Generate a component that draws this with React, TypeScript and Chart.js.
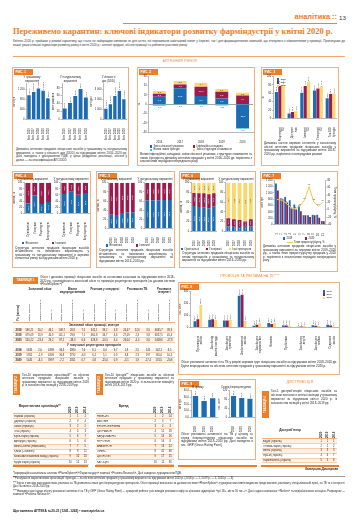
import React, { useEffect, useRef } from 'react';
import { Chart, registerables } from 'chart.js';

Chart.register(...registerables);

const F = "'Liberation Sans', Arial, sans-serif";
const CF = 'Liberation Sans, Arial, sans-serif';
const SERIF = "'Liberation Serif', 'DejaVu Serif', serif";
const OR = '#ef7d23';
const ORL = '#f4b07a';
const BLUE = '#1d6bb1';
const MAROON = '#9b1c4c';
const YEL = '#fad86e';
const LINEY = '#f2c64a';
const CYAN = '#3bbfe4';
const TX = '#262626';
const AX = '#8a8a8a';

// ---------------- DATA ----------------
const fig1Labels = ['Квіт. 2016', 'Квіт. 2017', 'Квіт. 2018', 'Квіт. 2019', 'Квіт. 2020'];
const fig1Money = [951.3, 1078.6, 1221.4, 1132.8, 838.5];
const fig1Packs = [27.4, 41.8, 59.2, 76.9, 55.6];
const fig1Doses = [1052.7, 1504.3, 2309.8, 2801.5, 1994.2];

const fig2Labels = ['2016', '2017', '2018', '2019', '2020'];
const fig2Packs = [8.1, 17.2, 8.8, 6.2, -25.6];
const fig2Inflation = [3.1, 4.1, 10.0, 7.2, 9.4];
const fig2Structure = [3.1, 3.8, 4.4, 3.1, 3.1];
const fig2NewBrands = [-1.6, -0.6, -0.9, -1.3, -0.7];

const fig3Labels = [['Рецептурні', 'ЛЗ'], ['Доступні', 'ліки'], ['Імпортні', 'ЛЗ'], ['Генеричні', 'ЛЗ'], ['Топ-100', 'брендів']];
const fig3Y2018 = [63.2, 12.1, 61.4, 66.3, 48.2];
const fig3Y2019 = [77.1, 15.8, 77.3, 71.2, 58.1];
const fig3Y2020 = [80.4, 17.2, 87.1, 77.4, 59.3];

const fig4Labels = ['Оригінальні', 'Генерики', 'Рецептурні', 'Безрецептурні'];
const fig4MoneyDomestic = [32.4, 58.1, 30.2, 37.3];
const fig4MoneyForeign = [67.6, 41.9, 69.8, 62.7];
const fig4PacksDomestic = [63.2, 70.4, 61.1, 66.8];
const fig4PacksForeign = [36.8, 29.6, 38.9, 33.2];

const fig5Labels = ['2016', '2017', '2018', '2019', '2020'];
const fig5MoneyDomestic = [30.1, 29.3, 33.6, 34.8, 35.2];
const fig5MoneyForeign = [69.9, 70.7, 66.4, 65.2, 64.8];
const fig5PacksDomestic = [61.2, 61.0, 61.8, 62.1, 62.4];
const fig5PacksForeign = [38.8, 39.0, 38.2, 37.9, 37.6];

const fig6Labels = ['2016', '2017', '2018', '2019', '2020'];
const fig6MoneyOrig = [52.3, 50.4, 49.8, 47.2, 51.1];
const fig6MoneyGen = [26.8, 27.9, 28.4, 29.1, 27.3];
const fig6MoneyOther = [20.9, 21.7, 21.8, 23.7, 21.6];
const fig6PacksOrig = [10.2, 9.8, 9.1, 9.6, 9.9];
const fig6PacksGen = [17.1, 15.3, 14.2, 11.0, 15.2];
const fig6PacksOther = [72.7, 74.9, 76.7, 79.4, 74.9];

const fig7Labels = ['1', '2', '3', '4', '5', '6', '7', '8', '9', '10', '11'];
const fig7Y2019 = [1302, 826, 868, 770, 630, 602, 294, 294, 308, 308, 112];
const fig7Y2020 = [1078, 798, 700, 504, 476, 420, 294, 238, 294, 210, 98];
const fig7Growth = [28, 26, 18, 6, 2, 10, 26, 63, 22, 10, 20];

const fig8Labels = [['Противірусні', 'засоби'], ['Засоби від', 'кашлю і застуди'], ['Засоби для', 'травлення'], ['Знеболювальні', 'засоби'], ['Засоби для', 'лікування вен'], ['Вітаміни'], ['Пробіотики'], ['Засоби при', 'алергії'], ['Засоби для', 'печінки'], ['Седативні', 'засоби']];
const fig8Y2018 = [49, 63, 57, 263, 11, 34, 14, 3, 17, 20];
const fig8Y2019 = [66, 66, 57, 271, 20, 26, 14, 6, 11, 14];
const fig8Y2020 = [186, 60, 63, 51, 34, 34, 14, 9, 9, 6];

const fig9Labels = ['2018', '2019', '2020'];
const fig9Total = [32.1, 24.6, 28.8];
const fig9Otc = [96.4, 87.2, 83.5];

const t1Groups = ['Загальний обсяг', 'Візити медпредставників', 'Реклама у спецпресі', 'Реклама на ТБ', 'Реклама в інтернеті'];
const t1Spans = [3, 3, 3, 3, 2];
const t1Sub3 = ['Обсяг, млн грн', 'Приріст/ убуток, %', 'Частка, %'];
const t1Sub2 = ['Обсяг, млн грн', 'Приріст/ убуток, %'];
const t1Years = ['2018', '2019', '2020'];
const t1SecA = 'Загальний обсяг промоції, млн грн';
const t1SecB = 'У тому числі рецептурних препаратів';
const t1A2018 = ['596,21', '20,2', '46,1', '108,7', '20,8', '7,5', '342,1', '39,2', '4,8', '26,47', '22,6', '3,5', '4695,7', '38,9'];
const t1A2019 = ['679,09', '13,9', '40,9', '141,1', '29,8', '7,1', '460,8', '34,7', '4,6', '27,09', '2,3', '3,8', '6827,5', '45,4'];
const t1A2020 = ['520,22', '-23,4', '29,2', '87,1', '-38,3', '6,6', '428,8', '-10,5', '4,4', '26,04', '-5,4', '3,6', '5408,6', '-17,8'];
const t1B2018 = ['5635', '2,0', '4398', '36,3', '2980', '7,6', '6,1', '0,4', '9,7', '1,8', '2,5', '145', '142,1', '8,5'];
const t1B2019 = ['5952', '-1,9', '4309', '30,8', '2792', '-6,3', '6,4', '5,1', '0,9', '3,8', '2,3', '197', '165,6', '16,5'];
const t1B2020 = ['5445', '-8,5', '3997', '-7,2', '2811', '0,7', '4,8', '-25,0', '0,9', '-3,1', '1,9', '-17,4', '131,5', '-20,6'];

const rankYears = ['2020', '2019', '2018'];
const t2Names = ['Фармак (Україна)', 'Дарниця (Україна)', 'Sanofi (Франція)', 'Teva (Ізраїль)', 'Юрія-Фарм (Україна)', 'Артеріум (Україна)', 'Berlin-Chemie (Німеччина)', 'KRKA (Словенія)', 'Київський вітамінний завод (Україна)', 'Кусум Фарм (Україна)'];
const t2R2020 = [1, 2, 3, 4, 5, 6, 7, 8, 9, 10];
const t2R2019 = [1, 3, 2, 4, 6, 5, 7, 8, 10, 12];
const t2R2018 = [1, 4, 2, 3, 7, 6, 5, 11, 10, 13];
const t3Names = ['НІМЕСИЛ', 'АФЛУБІН', 'ЕНТЕРОЖЕРМІНА', 'ЦИТРАМОН', 'КАРДІОМАГНІЛ', 'НУРОФЄН', 'АНАФЕРОН', 'ЛІНЕКС', 'ЦИПРОЛЕТ', 'КАГОЦЕЛ'];
const t3R2020 = [1, 2, 3, 4, 5, 6, 7, 8, 9, 10];
const t3R2019 = [2, 3, 4, 12, 19, 16, 13, 41, 17, 11];
const t3R2018 = [14, 7, 3, 18, 16, 8, 24, 46, 15, 36];
const t4Names = ['БаДМ (Україна)', 'Оптима-Фарм (Україна)', 'Вента (Україна)', 'Фра-М (Україна)', 'Фармпланета (Україна)'];
const t4R2020 = [1, 2, 3, 4, 5];
const t4R2019 = [1, 2, 3, 6, 5];
const t4R2018 = [1, 2, 3, 7, 6];

// ---------------- helpers ----------------
function fmtNum(v: number, dec: number) {
  const s = Math.abs(v).toFixed(dec);
  const parts = s.split('.');
  const i = parts[0].replace(/\B(?=(\d{3})+(?!\d))/g, ' ');
  return (v < 0 ? '-' : '') + i + (parts[1] ? ',' + parts[1] : '');
}

const valueLabelPlugin = {
  id: 'vlabels',
  afterDatasetsDraw(chart: any, _a: any, opts: any) {
    if (!opts || !opts.display) return;
    const ctx = chart.ctx;
    const size = opts.size || 2.5;
    ctx.save();
    ctx.font = `${size}px ${CF}`;
    chart.data.datasets.forEach((ds: any, i: number) => {
      const meta = chart.getDatasetMeta(i);
      if (!meta || meta.hidden) return;
      const mode = ds.vlMode || opts.mode;
      if (!mode || mode === 'none') return;
      const dec = opts.dec ?? 1;
      meta.data.forEach((el: any, j: number) => {
        const v = ds.data[j];
        if (v == null) return;
        const txt = fmtNum(v, dec);
        const p = el.getProps(['x', 'y', 'base'], true);
        ctx.fillStyle = ds.vlColor || opts.color || '#333';
        if (mode === 'rot') {
          ctx.save();
          const up = v >= 0;
          ctx.translate(p.x, up ? p.y - 0.8 : p.y + 0.8);
          ctx.rotate(-Math.PI / 2);
          ctx.textAlign = up ? 'left' : 'right';
          ctx.textBaseline = 'middle';
          ctx.fillText(txt, 0, 0);
          ctx.restore();
        } else if (mode === 'insideRot') {
          ctx.save();
          ctx.translate(p.x, (p.y + p.base) / 2);
          ctx.rotate(-Math.PI / 2);
          ctx.textAlign = 'center';
          ctx.textBaseline = 'middle';
          ctx.fillText(txt, 0, 0);
          ctx.restore();
        } else if (mode === 'inside') {
          ctx.textAlign = 'center';
          ctx.textBaseline = 'middle';
          ctx.fillText(txt, p.x, (p.y + p.base) / 2);
        } else if (mode === 'below') {
          ctx.textAlign = 'center';
          ctx.textBaseline = 'top';
          ctx.fillText(txt, p.x, Math.max(p.y, p.base) + 0.5);
        } else if (mode === 'above') {
          ctx.textAlign = 'center';
          ctx.textBaseline = 'bottom';
          ctx.fillText(txt, p.x, p.y - 0.8);
        }
      });
    });
    ctx.restore();
  },
};

const tickFont = (s = 2.8) => ({ size: s, family: CF });

function baseOptions(extra: any) {
  return {
    responsive: false,
    maintainAspectRatio: false,
    animation: false,
    devicePixelRatio: 1,
    events: [],
    layout: { padding: { top: 1, right: 1, bottom: 0, left: 0 } },
    ...extra,
  };
}

function xCat(o: any = {}) {
  return {
    type: 'category',
    stacked: !!o.stacked,
    grid: { display: false },
    border: { display: true, color: AX, width: 0.6 },
    ticks: {
      font: tickFont(o.size ?? 2.7),
      color: TX,
      padding: o.pad ?? 0.8,
      autoSkip: false,
      maxRotation: o.rot ?? 90,
      minRotation: o.rot ?? 90,
    },
  };
}

function yLin(o: any) {
  return {
    type: 'linear',
    position: o.position || 'left',
    stacked: !!o.stacked,
    min: o.min ?? 0,
    max: o.max,
    grid: {
      display: true,
      drawOnChartArea: !!o.zeroLine,
      color: o.zeroLine ? (c: any) => (c.tick && c.tick.value === 0 ? '#666' : 'rgba(0,0,0,0)') : AX,
      tickColor: AX,
      tickLength: 1.5,
      lineWidth: 0.6,
    },
    border: { display: true, color: AX, width: 0.6 },
    ticks: {
      stepSize: o.step,
      font: tickFont(o.size ?? 2.6),
      color: TX,
      padding: 0.8,
      callback: (v: number) => fmtNum(v, o.dec ?? 0) + (o.suffix || ''),
    },
    title: o.title
      ? { display: true, text: o.title, font: tickFont(2.7), color: TX, padding: { top: 0, bottom: 0.8 } }
      : { display: false },
  };
}

const titleOpt = (text: any) => ({
  display: true,
  text,
  font: { size: 2.8, family: CF, weight: 'normal', lineHeight: 1.15 },
  color: TX,
  padding: { top: 0, bottom: 1.5 },
});

const noLegend = { legend: { display: false }, tooltip: { enabled: false } };

const bar = (data: number[], color: string, extra: any = {}) => ({ data, backgroundColor: color, borderWidth: 0, ...extra });

function fig1Config(title: string[], yTitle: string, data: number[], max: number, step: number) {
  return {
    type: 'bar',
    data: { labels: fig1Labels, datasets: [bar(data, BLUE, { barPercentage: 0.82, categoryPercentage: 0.9 })] },
    options: baseOptions({
      plugins: { ...noLegend, title: titleOpt(title), vlabels: { display: true, mode: 'rot', dec: 1, size: 2.4 } },
      scales: { x: xCat({}), y: yLin({ max, step, title: yTitle }) },
    }),
    plugins: [valueLabelPlugin],
  };
}

const fig2Config = {
  type: 'bar',
  data: {
    labels: fig2Labels,
    datasets: [
      bar(fig2Packs, BLUE, { vlColor: '#fff', barPercentage: 0.62, categoryPercentage: 1 }),
      bar(fig2Inflation, MAROON, { vlColor: '#fff', barPercentage: 0.62, categoryPercentage: 1 }),
      bar(fig2Structure, YEL, { vlColor: '#333', barPercentage: 0.62, categoryPercentage: 1 }),
      bar(fig2NewBrands, CYAN, { vlColor: '#333', vlMode: 'below', barPercentage: 0.62, categoryPercentage: 1 }),
    ],
  },
  options: baseOptions({
    plugins: { ...noLegend, vlabels: { display: true, mode: 'inside', dec: 1, size: 2.4 } },
    scales: {
      x: xCat({ stacked: true, rot: 0 }),
      y: yLin({ stacked: true, min: -30, max: 30, step: 10, zeroLine: true, title: '%' }),
    },
  }),
  plugins: [valueLabelPlugin],
};

const fig3Config = {
  type: 'bar',
  data: {
    labels: fig3Labels,
    datasets: [
      bar(fig3Y2018, BLUE, { barPercentage: 0.92, categoryPercentage: 0.8 }),
      bar(fig3Y2019, MAROON, { barPercentage: 0.92, categoryPercentage: 0.8 }),
      bar(fig3Y2020, YEL, { barPercentage: 0.92, categoryPercentage: 0.8 }),
    ],
  },
  options: baseOptions({
    plugins: { ...noLegend, vlabels: { display: true, mode: 'rot', dec: 1, size: 2.2 } },
    scales: { x: xCat({}), y: yLin({ max: 100, step: 10, title: '%' }) },
  }),
  plugins: [valueLabelPlugin],
};

function shareConfig(labels: any[], title: string, sets: any[], showY: boolean, bp: number) {
  return {
    type: 'bar',
    data: {
      labels,
      datasets: sets.map((s: any) =>
        bar(s[0], s[1], { vlColor: s[1] === YEL ? '#444' : '#fff', barPercentage: bp, categoryPercentage: 1 })
      ),
    },
    options: baseOptions({
      plugins: { ...noLegend, title: titleOpt(title), vlabels: { display: true, mode: 'insideRot', dec: 1, size: 2.2 } },
      scales: {
        x: xCat({ stacked: true }),
        y: yLin({ stacked: true, max: 100, step: 10, title: showY ? 'Частка, %' : undefined }),
      },
    }),
    plugins: [valueLabelPlugin],
  };
}

const fig7Config = {
  type: 'bar',
  data: {
    labels: fig7Labels,
    datasets: [
      bar(fig7Y2019, BLUE, { yAxisID: 'y', barPercentage: 0.95, categoryPercentage: 0.85, order: 2 }),
      bar(fig7Y2020, MAROON, { yAxisID: 'y', barPercentage: 0.95, categoryPercentage: 0.85, order: 2 }),
      {
        type: 'line',
        data: fig7Growth,
        borderColor: LINEY,
        borderWidth: 1,
        pointRadius: 0,
        yAxisID: 'y2',
        order: 1,
        vlMode: 'above',
        vlColor: '#555',
      },
    ],
  },
  options: baseOptions({
    plugins: { ...noLegend, vlabels: { display: true, mode: 'none', dec: 0, size: 2.2 } },
    scales: {
      x: xCat({}),
      y: yLin({ max: 1400, step: 200, title: 'Млн грн' }),
      y2: yLin({ position: 'right', min: -40, max: 80, step: 20, title: 'Темп приросту/убутку, %' }),
    },
  }),
  plugins: [valueLabelPlugin],
};

const fig8Config = {
  type: 'bar',
  data: {
    labels: fig8Labels,
    datasets: [
      bar(fig8Y2018, BLUE, { barPercentage: 0.95, categoryPercentage: 0.6 }),
      bar(fig8Y2019, MAROON, { barPercentage: 0.95, categoryPercentage: 0.6 }),
      bar(fig8Y2020, YEL, { barPercentage: 0.95, categoryPercentage: 0.6 }),
    ],
  },
  options: baseOptions({
    plugins: { ...noLegend, vlabels: { display: true, mode: 'rot', dec: 1, size: 2.2 } },
    scales: { x: xCat({}), y: yLin({ max: 300, step: 50, title: 'Тис. GRP' }) },
  }),
  plugins: [valueLabelPlugin],
};

function fig9Config(title: string, yTitle: string, data: number[], max: number, step: number, dec: number) {
  return {
    type: 'bar',
    data: { labels: fig9Labels, datasets: [bar(data, BLUE, { barPercentage: 0.62, categoryPercentage: 1 })] },
    options: baseOptions({
      plugins: { ...noLegend, title: titleOpt(title), vlabels: { display: true, mode: 'rot', dec: 1, size: 2.3 } },
      scales: { x: xCat({}), y: yLin({ max, step, title: yTitle, dec }) },
    }),
    plugins: [valueLabelPlugin],
  };
}

// ---------------- components ----------------
function ChartBox({ x, y, w, h, config }: any) {
  const ref = useRef<HTMLCanvasElement>(null);
  useEffect(() => {
    const chart = new Chart(ref.current as HTMLCanvasElement, config);
    return () => chart.destroy();
  }, []);
  return <canvas ref={ref} width={w} height={h} style={{ position: 'absolute', left: x, top: y, width: w, height: h }} />;
}

function T({ x, y, w, size = 3, lh, children, style }: any) {
  return (
    <div
      style={{
        position: 'absolute',
        left: x,
        top: y,
        width: w,
        fontSize: size,
        lineHeight: (lh ?? size * 1.2) + 'px',
        fontFamily: F,
        color: TX,
        ...style,
      }}
    >
      {children}
    </div>
  );
}

function Panel({ x, y, w, h, label }: any) {
  return (
    <div style={{ position: 'absolute', left: x, top: y, width: w, height: h, border: `1px solid ${ORL}`, boxSizing: 'border-box' }}>
      <div
        style={{
          position: 'absolute',
          left: 0.5,
          top: 0.5,
          width: 19,
          height: 6,
          background: OR,
          color: '#fff',
          fontSize: 3.3,
          lineHeight: '6px',
          fontWeight: 'bold',
          fontFamily: F,
          paddingLeft: 2,
          boxSizing: 'border-box',
        }}
      >
        {label}
      </div>
    </div>
  );
}

function Legend({ x, y, items, size = 2.7 }: any) {
  return (
    <>
      {items.map((it: any, i: number) => (
        <div
          key={i}
          style={{
            position: 'absolute',
            left: x + (it.dx || 0),
            top: y + (it.dy || 0),
            display: 'flex',
            alignItems: 'center',
            fontSize: size,
            lineHeight: size + 0.6 + 'px',
            whiteSpace: 'nowrap',
            color: TX,
            fontFamily: F,
          }}
        >
          {it.line ? (
            <span style={{ display: 'inline-block', width: 6, height: 0, borderTop: `1px solid ${it.color}`, marginRight: 1 }} />
          ) : (
            <span style={{ display: 'inline-block', width: 2.4, height: 2.4, background: it.color, marginRight: 1 }} />
          )}
          {it.text}
        </div>
      ))}
    </>
  );
}

function VTab({ x, y, h, label }: any) {
  return (
    <div style={{ position: 'absolute', left: x, top: y, width: 7, height: h, background: OR }}>
      <div
        style={{
          width: 7,
          height: h,
          writingMode: 'vertical-rl',
          transform: 'rotate(180deg)',
          color: '#fff',
          fontSize: 3,
          lineHeight: '7px',
          fontWeight: 'bold',
          textAlign: 'center',
          fontFamily: F,
        }}
      >
        {label}
      </div>
    </div>
  );
}

function VText({ x, y, w, h, size = 2.6, bold, children }: any) {
  return (
    <div
      style={{
        position: 'absolute',
        left: x,
        top: y,
        width: w,
        height: h,
        writingMode: 'vertical-rl',
        transform: 'rotate(180deg)',
        fontSize: size,
        lineHeight: size + 0.5 + 'px',
        fontWeight: bold ? 'bold' : 'normal',
        textAlign: 'left',
        fontFamily: F,
        color: TX,
        display: 'flex',
        alignItems: 'center',
        overflow: 'hidden',
      }}
    >
      {children}
    </div>
  );
}

function RankTable({ x, w, tabY, tabH, desc, descY, descLh, head, headY, headH, names, c1, c2, c3, rowY, rowH, colW, nameSize }: any) {
  const nameW = w - 2 - colW * 3;
  const colX = (k: number) => x + 1 + nameW + k * colW;
  const cols = [c1, c2, c3];
  return (
    <>
      <VTab x={x + 1} y={tabY} h={tabH} label={head.tab} />
      <T x={x + 10} y={descY} w={w - 11} size={2.9} lh={descLh} style={{ textAlign: 'justify' }}>
        {desc}
      </T>
      <div
        style={{
          position: 'absolute',
          left: x + 1,
          top: headY,
          width: nameW,
          height: headH,
          display: 'flex',
          alignItems: 'center',
          justifyContent: 'center',
          fontSize: 3.1,
          fontWeight: 'bold',
          fontFamily: F,
          color: TX,
        }}
      >
        {head.name}
      </div>
      {rankYears.map((yr, k) => (
        <VText key={k} x={colX(k)} y={headY} w={colW} h={headH} size={2.8} bold>
          {yr}
        </VText>
      ))}
      <div style={{ position: 'absolute', left: x + 1, top: headY + headH, width: w - 2, height: 0, borderTop: `0.6px solid ${ORL}` }} />
      {names.map((n: string, i: number) => (
        <React.Fragment key={i}>
          <div
            style={{
              position: 'absolute',
              left: x + 1,
              top: rowY + i * rowH,
              width: w - 2,
              height: rowH,
              background: i % 2 === 0 ? '#fdf0e5' : '#ffffff',
              borderBottom: `0.5px solid #f3cfb2`,
              boxSizing: 'border-box',
            }}
          />
          <T x={x + 2} y={rowY + i * rowH + 0.6} w={nameW - 1} size={nameSize} lh={rowH - 1} style={{ whiteSpace: 'nowrap', overflow: 'hidden' }}>
            {n}
          </T>
          {cols.map((c: number[], k: number) => (
            <T key={k} x={colX(k)} y={rowY + i * rowH + 0.6} w={colW} size={nameSize} lh={rowH - 1} style={{ textAlign: 'center' }}>
              {c[i]}
            </T>
          ))}
        </React.Fragment>
      ))}
    </>
  );
}

function Table1() {
  const x0 = 13;
  const yearW = 11;
  const cw = (175 - x0 - yearW) / 14;
  const cx = (i: number) => x0 + yearW + i * cw;
  const subs: string[] = [];
  t1Spans.forEach((s) => (s === 3 ? t1Sub3 : t1Sub2).forEach((t) => subs.push(t)));
  let acc = 0;
  const groupPos = t1Spans.map((s) => {
    const p = { x: cx(acc), w: s * cw };
    acc += s;
    return p;
  });
  const rowsA = [t1A2018, t1A2019, t1A2020];
  const rowsB = [t1B2018, t1B2019, t1B2020];
  const rowH = 4.9;
  const renderRows = (rows: string[][], y: number) =>
    rows.map((r, i) => (
      <React.Fragment key={i}>
        <div
          style={{
            position: 'absolute',
            left: x0,
            top: y + i * rowH,
            width: 162,
            height: rowH,
            background: i % 2 === 0 ? '#fdf0e5' : '#fff',
            borderBottom: '0.5px solid #f3cfb2',
            boxSizing: 'border-box',
          }}
        />
        <T x={x0} y={y + i * rowH + 0.7} w={yearW} size={2.7} lh={3.4} style={{ textAlign: 'center', fontWeight: 'bold' }}>
          {t1Years[i]}
        </T>
        {r.map((v, k) => (
          <T key={k} x={cx(k)} y={y + i * rowH + 0.7} w={cw} size={2.6} lh={3.4} style={{ textAlign: 'center', whiteSpace: 'nowrap' }}>
            {v}
          </T>
        ))}
      </React.Fragment>
    ));
  return (
    <>
      <div
        style={{
          position: 'absolute',
          left: 13,
          top: 277,
          width: 25,
          height: 7,
          background: OR,
          color: '#fff',
          fontSize: 3.1,
          lineHeight: '7px',
          fontWeight: 'bold',
          textAlign: 'center',
          fontFamily: F,
        }}
      >
        ТАБЛИЦЯ 1
      </div>
      <T x={40} y={276} w={135} size={2.9} lh={3.7} style={{ textAlign: 'justify' }}>
        Обсяг і динаміка промоції лікарських засобів за основними каналами за підсумками квітня 2018–2020 рр. з розподілом на
        загальний обсяг та промоцію рецептурних препаратів (за даними системи «PharmXplorer»)*
      </T>
      {groupPos.map((g, i) => (
        <T key={i} x={g.x} y={288} w={g.w} size={2.8} lh={3.1} style={{ textAlign: 'center', fontWeight: 'bold' }}>
          {t1Groups[i]}
        </T>
      ))}
      <VText x={x0} y={295} w={yearW} h={26} size={2.7} bold>
        Рік (квітень)
      </VText>
      {subs.map((s, i) => (
        <VText key={i} x={cx(i) + 1} y={295} w={cw - 2} h={26} size={2.5}>
          {s}
        </VText>
      ))}
      <div style={{ position: 'absolute', left: x0, top: 322, width: 162, height: 0, borderTop: `0.6px solid ${ORL}` }} />
      <T x={x0} y={323.5} w={162} size={2.9} lh={3.5} style={{ textAlign: 'center', fontWeight: 'bold' }}>
        {t1SecA}
      </T>
      {renderRows(rowsA, 328)}
      <T x={x0} y={343.5} w={162} size={2.9} lh={3.5} style={{ textAlign: 'center', fontWeight: 'bold' }}>
        {t1SecB}
      </T>
      {renderRows(rowsB, 348.5)}
    </>
  );
}

// ---------------- App ----------------
export default function App() {
  const capStyle = { textAlign: 'justify' as const };
  return (
    <div
      style={{
        position: 'absolute',
        left: 0,
        top: 0,
        width: 360,
        height: 530,
        background: '#fff',
        overflow: 'hidden',
        fontFamily: F,
        color: TX,
      }}
    >
      {/* header */}
      <div style={{ position: 'absolute', left: 123, top: 22.5, width: 214, height: 0, borderTop: '0.7px solid #9a9a9a' }} />
      <div
        style={{
          position: 'absolute',
          right: 23,
          top: 13,
          fontSize: 7.4,
          fontWeight: 'bold',
          color: OR,
          lineHeight: '8px',
          fontFamily: F,
          whiteSpace: 'nowrap',
        }}
      >
        аналітика ::
      </div>
      <div style={{ position: 'absolute', left: 339, top: 13.5, fontSize: 6.2, color: '#333', lineHeight: '8px', fontFamily: F }}>13</div>
      <div
        style={{
          position: 'absolute',
          left: 13,
          top: 26,
          fontSize: 8.45,
          fontWeight: 'bold',
          color: OR,
          lineHeight: '10px',
          fontFamily: SERIF,
          whiteSpace: 'nowrap',
        }}
      >
        Переживемо карантин: ключові індикатори розвитку фарміндустрії у квітні 2020 р.
      </div>
      <T x={13} y={38.5} w={332} size={3} lh={4.4} style={{ textAlign: 'justify', color: '#333' }}>
        Квітень 2020 р. пройшов у режимі карантину, що стало не найкращим чинником як для аптек, які переживали ажіотажний попит у березні, так
        і для фармацевтичних компаній, що зіткнулися з обмеженнями у промоції. Пропонуємо до вашої уваги ключові індикатори розвитку ринку в
        квітні 2020 р.: аптечні продажі, обсяги промоції та рейтинги учасників ринку.
      </T>
      <div style={{ position: 'absolute', left: 13, top: 56, width: 332, height: 0.9, background: '#f3a468' }} />
      <T x={100} y={59} w={160} size={3.3} lh={4} style={{ textAlign: 'center', color: OR, letterSpacing: 0.3 }}>
        АПТЕЧНИЙ РИНОК
      </T>

      {/* Fig 1 */}
      <Panel x={12} y={67} w={117} h={99} label="РИС. 1" />
      <ChartBox x={13} y={75} w={39} h={66} config={fig1Config(['У грошовому', 'вираженні'], 'Млн грн', fig1Money, 1400, 200)} />
      <ChartBox x={52} y={75} w={38} h={66} config={fig1Config(['У натуральному', 'вираженні'], 'Млн упаковок', fig1Packs, 90, 10)} />
      <ChartBox x={90} y={75} w={38} h={66} config={fig1Config(['У кількості', 'доз (DDD)'], 'Млн доз', fig1Doses, 3500, 500)} />
      <T x={16} y={148} w={111} size={3} lh={3.6} style={capStyle}>
        Динаміка аптечних продажів лікарських засобів у грошовому та натуральному вираженні, а також у кількості доз (DDD) за підсумками
        квітня 2016–2020 рр. Дані наведено з урахуванням ПДВ, у цінах роздрібної реалізації, обсяги у дозах — за класифікацією ATC/DDD
      </T>

      {/* Fig 2 */}
      <Panel x={137} y={67} w={118} h={99} label="РИС. 2" />
      <ChartBox x={138} y={74} w={116} h={71} config={fig2Config} />
      <Legend
        x={150}
        y={145}
        items={[
          { color: BLUE, text: 'Зміна кількості упаковок' },
          { color: MAROON, text: 'Інфляційна складова', dx: 43 },
          { color: CYAN, text: 'Вплив нових брендів', dy: 3.4 },
          { color: YEL, text: 'Зміна структури споживання', dx: 43, dy: 3.4 },
        ]}
      />
      <T x={140} y={153} w={112} size={3} lh={3.6} style={capStyle}>
        Вплив інфляційної складової, зміни кількості упаковок, структури споживання та нових брендів на динаміку аптечних продажів у квітні
        2016–2020 рр. порівняно з аналогічним періодом попереднього року
      </T>

      {/* Fig 3 */}
      <Panel x={261} y={67} w={78} h={99} label="РИС. 3" />
      <ChartBox x={262} y={74} w={76} h={68} config={fig3Config} />
      <Legend
        x={277}
        y={78}
        size={2.5}
        items={[
          { color: BLUE, text: '2018' },
          { color: MAROON, text: '2019', dy: 3.1 },
          { color: YEL, text: '2020', dy: 6.2 },
        ]}
      />
      <T x={264} y={142} w={72} size={3} lh={3.6} style={capStyle}>
        Динаміка частки окремих сегментів у загальному обсязі аптечних продажів лікарських засобів у грошовому вираженні за підсумками
        квітня 2018–2020 рр. порівняно з попередніми роками
      </T>

      {/* Fig 4 */}
      <Panel x={12} y={171} w={79} h={97} label="РИС. 4" />
      <ChartBox
        x={13}
        y={177}
        w={40}
        h={64}
        config={shareConfig(fig4Labels, 'У грошовому вираженні', [[fig4MoneyDomestic, BLUE], [fig4MoneyForeign, MAROON]], true, 0.72)}
      />
      <ChartBox
        x={53}
        y={177}
        w={37}
        h={64}
        config={shareConfig(fig4Labels, 'У натуральному вираженні', [[fig4PacksDomestic, BLUE], [fig4PacksForeign, MAROON]], false, 0.72)}
      />
      <Legend
        x={22}
        y={241.5}
        items={[
          { color: BLUE, text: 'Вітчизняні' },
          { color: MAROON, text: 'Іноземні', dx: 30 },
        ]}
      />
      <T x={15} y={246.5} w={74} size={3} lh={3.6} style={capStyle}>
        Структура аптечних продажів лікарських засобів вітчизняного та іноземного виробництва у грошовому та натуральному вираженні в окремих
        сегментах ринку за підсумками квітня 2020 р.
      </T>

      {/* Fig 5 */}
      <Panel x={96} y={171} w={79} h={97} label="РИС. 5" />
      <ChartBox
        x={97}
        y={177}
        w={40}
        h={67}
        config={shareConfig(fig5Labels, 'У грошовому вираженні', [[fig5MoneyDomestic, BLUE], [fig5MoneyForeign, MAROON]], true, 0.68)}
      />
      <ChartBox
        x={137}
        y={177}
        w={37}
        h={67}
        config={shareConfig(fig5Labels, 'У натуральному вираженні', [[fig5PacksDomestic, BLUE], [fig5PacksForeign, MAROON]], false, 0.68)}
      />
      <Legend
        x={106}
        y={244}
        items={[
          { color: BLUE, text: 'Вітчизняні' },
          { color: MAROON, text: 'Іноземні', dx: 30 },
        ]}
      />
      <T x={99} y={249} w={74} size={3} lh={3.6} style={capStyle}>
        Структура аптечних продажів лікарських засобів вітчизняного та іноземного виробництва у грошовому та натуральному вираженні за
        підсумками квітня 2016–2020 рр.
      </T>

      {/* Fig 6 */}
      <Panel x={179} y={171} w={77} h={97} label="РИС. 6" />
      <ChartBox
        x={180}
        y={177}
        w={38}
        h={70}
        config={shareConfig(fig6Labels, 'У грошовому вираженні', [[fig6MoneyOrig, BLUE], [fig6MoneyGen, MAROON], [fig6MoneyOther, YEL]], true, 0.68)}
      />
      <ChartBox
        x={218}
        y={177}
        w={37}
        h={70}
        config={shareConfig(fig6Labels, 'У натуральному вираженні', [[fig6PacksOrig, BLUE], [fig6PacksGen, MAROON], [fig6PacksOther, YEL]], false, 0.68)}
      />
      <Legend
        x={181}
        y={247.5}
        items={[
          { color: BLUE, text: 'Оригінальні' },
          { color: MAROON, text: 'Генеричні', dx: 25 },
          { color: YEL, text: 'Інші препарати', dx: 48 },
        ]}
      />
      <T x={182} y={252} w={72} size={3} lh={3.6} style={capStyle}>
        Структура аптечних продажів лікарських засобів за типом препаратів у грошовому та натуральному вираженні за підсумками квітня
        2016–2020 рр.
      </T>

      {/* Fig 7 */}
      <Panel x={260} y={171} w={78} h={101} label="РИС. 7" />
      <ChartBox x={261} y={178} w={76} h={59} config={fig7Config} />
      <Legend
        x={283}
        y={237}
        items={[
          { color: BLUE, text: '2019' },
          { color: MAROON, text: '2020', dx: 22 },
          { color: LINEY, text: 'Темп приросту/убутку, %', line: true, dx: 4, dy: 3.6 },
        ]}
      />
      <T x={263} y={245} w={73} size={3} lh={3.6} style={capStyle}>
        Динаміка аптечних продажів лікарських засобів у грошовому вираженні за тижнями квітня 2019–2020 рр., а також темп приросту/убутку
        продажів у 2020 р. порівняно з аналогічним періодом попереднього року
      </T>

      {/* Table 1 + promo heading */}
      <Table1 />
      <T x={205} y={273.5} w={90} size={3.2} lh={4} style={{ textAlign: 'center', color: OR, letterSpacing: 0.2 }}>
        ПРОМОЦІЯ ТА РЕКЛАМА НА ТБ****
      </T>

      {/* Fig 8 */}
      <Panel x={178} y={282} w={162} h={93} label="РИС. 8" />
      <ChartBox x={179} y={289} w={160} h={68} config={fig8Config} />
      <Legend
        x={323}
        y={290}
        size={2.5}
        items={[
          { color: BLUE, text: '2018' },
          { color: MAROON, text: '2019', dy: 3.1 },
          { color: YEL, text: '2020', dy: 6.2 },
        ]}
      />
      <T x={181} y={361} w={156} size={3} lh={3.6} style={capStyle}>
        Обсяг рекламної активності на ТБ у розрізі окремих груп лікарських засобів за підсумками квітня 2018–2020 рр. Групи впорядковано за
        обсягом аптечних продажів у грошовому вираженні за підсумками квітня 2020 р.
      </T>

      {/* Tables 2 & 3 */}
      <RankTable
        x={12}
        w={78}
        tabY={374}
        tabH={21}
        desc="Топ-10 маркетингових організацій** за обсягом аптечних продажів лікарських засобів у грошовому вираженні за підсумками квітня 2020 р. із зазначенням позицій у 2018–2019 рр."
        descY={373.5}
        descLh={3.6}
        head={{ tab: 'ТАБЛИЦЯ 2', name: 'Маркетингова організація**' }}
        headY={398}
        headH={15}
        names={t2Names}
        c1={t2R2020}
        c2={t2R2019}
        c3={t2R2018}
        rowY={414}
        rowH={5.1}
        colW={7.5}
        nameSize={2.6}
      />
      <RankTable
        x={95}
        w={80}
        tabY={374}
        tabH={21}
        desc="Топ-10 брендів** лікарських засобів за обсягом аптечних продажів у грошовому вираженні за підсумками квітня 2020 р. із зазначенням позицій у квітні 2018–2019 рр."
        descY={373.5}
        descLh={3.6}
        head={{ tab: 'ТАБЛИЦЯ 3', name: 'Бренд' }}
        headY={398}
        headH={15}
        names={t3Names}
        c1={t3R2020}
        c2={t3R2019}
        c3={t3R2018}
        rowY={414}
        rowH={5.1}
        colW={7.5}
        nameSize={2.6}
      />

      {/* Fig 9 */}
      <Panel x={178} y={379} w={78} h={81} label="РИС. 9" />
      <ChartBox x={179} y={385} w={39} h={48} config={fig9Config('В цілому', 'Млн грн', fig9Total, 40, 5, 1)} />
      <ChartBox x={218} y={385} w={37} h={48} config={fig9Config('Серед безрецептурних', 'Тис. GRP', fig9Otc, 120, 20, 0)} />
      <T x={181} y={433} w={72} size={3} lh={3.6} style={capStyle}>
        Обсяг рекламної активності на ТБ у цілому та серед безрецептурних лікарських засобів за підсумками квітня 2018–2020 рр. Дані наведено
        в тис. GRP (Gross Rating Point)
      </T>

      {/* Distribution */}
      <T x={250} y={380} w={100} size={3.3} lh={4} style={{ textAlign: 'center', color: OR, letterSpacing: 0.3 }}>
        ДИСТРИБУЦІЯ
      </T>
      <RankTable
        x={261}
        w={77}
        tabY={391}
        tabH={27}
        desc="Топ-5 дистриб'юторів лікарських засобів за обсягом поставок в аптечні заклади у грошовому вираженні за підсумками квітня 2020 р. із зазначенням позицій у квітні 2018–2019 рр."
        descY={389}
        descLh={4}
        head={{ tab: 'ТАБЛИЦЯ 4', name: "Дистриб'ютор" }}
        headY={421}
        headH={17}
        names={t4Names}
        c1={t4R2020}
        c2={t4R2019}
        c3={t4R2018}
        rowY={439}
        rowH={4.9}
        colW={6.3}
        nameSize={2.6}
      />

      {/* bottom orange bars */}
      {[
        [13, 75],
        [95, 79],
        [178, 79],
        [261, 78],
      ].map((s, i) => (
        <div key={i} style={{ position: 'absolute', left: s[0], top: 465, width: s[1], height: 1.6, background: OR }} />
      ))}
      <T x={250} y={468} w={88} size={3.1} lh={3.6} style={{ textAlign: 'right', fontWeight: 'bold', fontStyle: 'italic' }}>
        Катерина Дмитрова
      </T>

      {/* footnotes */}
      <T x={13} y={471.5} w={250} size={2.7} lh={3.2} style={{ whiteSpace: 'nowrap' }}>
        *Інформаційно-аналітична система «PharmXplorer»/«Фармстандарт» компанії «Proxima Research». Дані наведено з урахуванням ПДВ.
      </T>
      <div style={{ position: 'absolute', left: 13, top: 475.5, width: 332, height: 0, borderTop: '0.6px solid #9a9a9a' }} />
      <T x={13} y={477} w={332} size={2.7} lh={3.3}>
        **Ранжування маркетингових організацій і брендів — за обсягом аптечних продажів у грошовому вираженні за підсумками квітня 2020 р.
        (2018 р. — 1, 2019 р. — 2, 2020 р. — 3).
      </T>
      <T x={13} y={482} w={332} size={2.7} lh={3.3} style={{ textAlign: 'justify' }}>
        ***Згідно з чинним законодавством, реклама на ТБ дозволена лише для безрецептурних препаратів. Обсяг промоції визначено за даними
        системи «PharmXplorer» з урахуванням візитів медичних представників, реклами у спеціалізованій пресі, на ТБ та в інтернеті. Дані за
        квітень 2018–2020 рр.
      </T>
      <T x={13} y={489.5} w={332} size={2.7} lh={3.3} style={{ textAlign: 'justify' }}>
        ****Наведено дані щодо обсягу рекламної активності на ТБ у GRP (Gross Rating Point) — сумарний рейтинг усіх виходів реклами в ефір за
        цільовою аудиторією «усі 18+, міста 50 тис.+». Дані надано компанією «Nielsen» та медіабаїнговою агенцією. Розрахунок — компанія «Proxima
        Research».
      </T>
      <T x={13} y={509} w={250} size={3.2} lh={4} style={{ fontWeight: 'bold', whiteSpace: 'nowrap' }}>
        Щотижневик АПТЕКА №20-21 (1241–1242) • www.apteka.ua
      </T>
    </div>
  );
}
